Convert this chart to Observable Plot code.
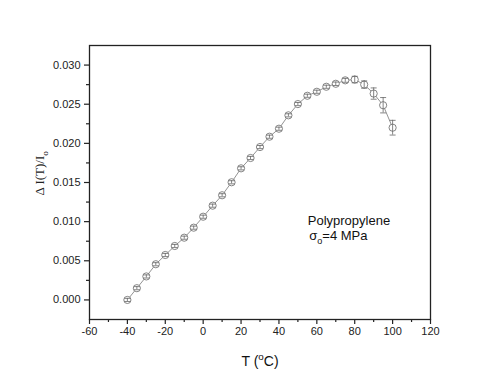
<!DOCTYPE html>
<html>
<head>
<meta charset="utf-8">
<script src="https://cdn.jsdelivr.net/npm/d3@7"></script>
<script src="https://cdn.jsdelivr.net/npm/@observablehq/plot@0.6"></script>
<style>
  html, body { margin: 0; padding: 0; background: #fff; }
  #chart { width: 500px; height: 383px; }
</style>
</head>
<body>
<div id="chart"></div>
<script>
// Temperature (°C)
const temperature = [-40,-35,-30,-25,-20,-15,-10,-5,0,5,10,15,20,25,30,35,40,45,50,55,60,65,70,75,80,85,90,95,100];
// ΔI(T)/I0
const deltaI = [0.0000,0.0015,0.0030,0.00456,0.00574,0.00689,0.00795,0.00923,0.01063,0.01204,0.01337,0.01503,0.01681,0.01813,0.01953,0.02085,0.02187,0.02358,0.02502,0.02608,0.02659,0.02723,0.02761,0.02805,0.02815,0.02751,0.02636,0.02487,0.02200];
// error bar half-widths
const errors = [0.0002,0.0002,0.0002,0.0002,0.0002,0.0002,0.0002,0.0002,0.0002,0.0002,0.0002,0.0002,0.0002,0.0002,0.0002,0.0002,0.0002,0.0002,0.0002,0.0002,0.0002,0.0002,0.00022,0.00025,0.00042,0.00047,0.00072,0.00098,0.00094];

const xTicks = [-60,-40,-20,0,20,40,60,80,100,120];
const xMinor = [-50,-30,-10,10,30,50,70,90,110];
const yTicks = [0,0.005,0.010,0.015,0.020,0.025,0.030];
const yMinor = [0.0025,0.0075,0.0125,0.0175,0.0225,0.0275];

const annotationLines = ["Polypropylene", "σ{o}=4 MPa"];
const xLabel = "T ({^o}C)";
const yLabel = "Δ I(T)/I{o}";

const data = temperature.map((t, i) => ({t, v: deltaI[i], lo: deltaI[i] - errors[i], hi: deltaI[i] + errors[i]}));

// horizontal cap symbol for error bars
const capSymbol = {draw(context, size) { const h = 3; context.moveTo(-h, 0); context.lineTo(h, 0); }};

const plot = Plot.plot({
  width: 500,
  height: 383,
  marginLeft: 89,
  marginRight: 70,
  marginTop: 45,
  marginBottom: 64,
  style: {fontFamily: "'Liberation Sans', Arial, sans-serif", fontSize: "11px", color: "#222", background: "#fff"},
  x: {type: "linear", domain: [-60, 120]},
  y: {type: "linear", domain: [-0.0025, 0.0325]},
  marks: [
    Plot.axisX({ticks: xTicks, tickSize: 5, tickPadding: 3, tickFormat: d => String(d), label: null, stroke: "#222", strokeWidth: 1.2}),
    Plot.axisX({ticks: xMinor, tickSize: 3, tickFormat: () => "", label: null, stroke: "#222", strokeWidth: 1.2}),
    Plot.axisY({ticks: yTicks, tickSize: 5, tickPadding: 4, tickFormat: d3.format(".3f"), label: null, stroke: "#222", strokeWidth: 1.2}),
    Plot.axisY({ticks: yMinor, tickSize: 3, tickFormat: () => "", label: null, stroke: "#222", strokeWidth: 1.2}),
    Plot.frame({stroke: "#222", strokeWidth: 1.3}),
    Plot.line(data, {x: "t", y: "v", stroke: "#777", strokeWidth: 0.8}),
    Plot.dot(data, {x: "t", y: "v", r: 3.6, stroke: "#777", fill: "white", strokeWidth: 0.9}),
    Plot.ruleX(data, {x: "t", y1: "lo", y2: "hi", stroke: "#666", strokeWidth: 0.8}),
    Plot.dot(data, {x: "t", y: "lo", symbol: capSymbol, fill: "none", stroke: "#666", strokeWidth: 0.8}),
    Plot.dot(data, {x: "t", y: "hi", symbol: capSymbol, fill: "none", stroke: "#666", strokeWidth: 0.8}),
    Plot.text(annotationLines.slice(0,1), {x: 55.2, y: 0.0101, text: d => d, textAnchor: "start", fontSize: 13, fill: "#111"}),
    Plot.text(annotationLines.slice(1), {x: 56, y: 0.0082, text: d => d, textAnchor: "start", fontSize: 13, fill: "#111"}),
    Plot.text([xLabel], {frameAnchor: "bottom", dy: 46, text: d => d, fontSize: 14, fill: "#111", fontFamily: "'Liberation Sans', Arial, sans-serif"}),
    Plot.text([yLabel], {frameAnchor: "left", dx: -50, dy: 13, rotate: -90, text: d => d, fontSize: 13, fill: "#222", fontFamily: "'Liberation Serif', 'Times New Roman', serif"})
  ]
});

document.getElementById("chart").appendChild(plot);

// Sub/superscripts: replace {o} (subscript) and {^o} (superscript) with tspans
d3.select(plot).selectAll("text").each(function() {
  const el = this;
  if (el.querySelector("tspan")) return;
  const s = el.textContent;
  if (!/\{\^?o\}/.test(s)) return;
  el.textContent = "";
  const fs = parseFloat(el.getAttribute("font-size") || getComputedStyle(el).fontSize) || 12;
  const NS = "http://www.w3.org/2000/svg";
  let shift = 0;
  for (const p of s.split(/(\{\^?o\})/)) {
    if (!p) continue;
    const t = document.createElementNS(NS, "tspan");
    if (p === "{o}" || p === "{^o}") {
      const d = p === "{o}" ? fs * 0.3 : -fs * 0.4;
      t.textContent = "o";
      t.setAttribute("font-size", (fs * 0.7).toFixed(1));
      t.setAttribute("dy", (d - shift).toFixed(1));
      shift = d;
    } else {
      t.textContent = p;
      t.setAttribute("dy", (-shift).toFixed(1));
      shift = 0;
    }
    el.appendChild(t);
  }
});
</script>
</body>
</html>
